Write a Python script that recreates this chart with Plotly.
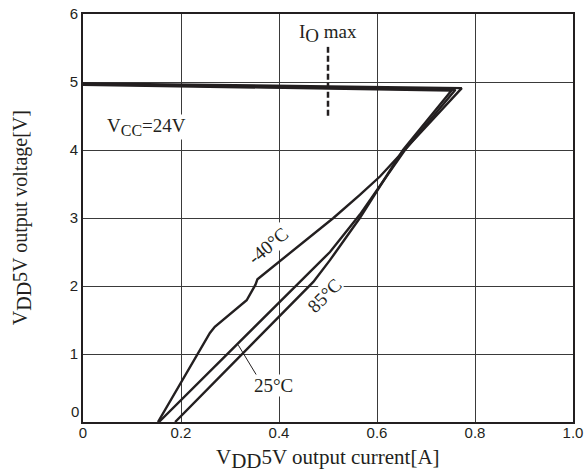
import plotly.graph_objects as go

# VDD5V output current [A] vs output voltage [V], per temperature
# each curve: along the top from 0A to the fold-back tip, then down to 0V
m40_x = [0, 0.773, 0.606, 0.565, 0.511, 0.402, 0.356, 0.352, 0.345, 0.334, 0.269, 0.259, 0.153]
m40_y = [4.98, 4.91, 3.61, 3.34, 3.00, 2.37, 2.10, 2.02, 1.93, 1.79, 1.40, 1.31, 0]

t25_x = [0, 0.760, 0.657, 0.565, 0.504, 0.155]
t25_y = [4.97, 4.885, 4.00, 3.05, 2.50, 0]

t85_x = [0, 0.752, 0.653, 0.565, 0.504, 0.470, 0.188]
t85_y = [4.96, 4.875, 4.00, 3.00, 2.38, 2.06, 0]

io_max_x = [0.5, 0.5]
io_max_y = [5.52, 4.50]

leader_x = [0.317, 0.354]
leader_y = [1.13, 0.69]

x_ticks = [0, 0.2, 0.4, 0.6, 0.8, 1.0]
x_labels = ['0', '0.2', '0.4', '0.6', '0.8', '1.0']
y_ticks = [1, 2, 3, 4, 5, 6]
y_labels = ['1', '2', '3', '4', '5', '6']

ink = '#231f20'
serif = 'Liberation Serif'
sans = 'Liberation Sans'

fig = go.Figure()
for xs, ys in [(m40_x, m40_y), (t25_x, t25_y), (t85_x, t85_y)]:
    fig.add_trace(go.Scatter(x=xs, y=ys, mode='lines',
                             line=dict(color=ink, width=2.4),
                             showlegend=False, hoverinfo='skip'))

fig.add_trace(go.Scatter(x=io_max_x, y=io_max_y, mode='lines',
                         line=dict(color=ink, width=2.5, dash='6px,3px'),
                         showlegend=False, hoverinfo='skip'))
fig.add_trace(go.Scatter(x=leader_x, y=leader_y, mode='lines',
                         line=dict(color=ink, width=1),
                         showlegend=False, hoverinfo='skip'))

def sub(s, size):
    return '<sub><span style="font-size:%dpx">%s</span></sub>' % (size, s)

notes = [
    dict(x=0.5, y=5.72, text='I' + sub('O', 19) + ' max', angle=0),
    dict(x=0.13, y=4.34, text='V' + sub('CC', 16) + '=24V', angle=0),
    dict(x=0.378, y=2.60, text='-40°C', angle=-40),
    dict(x=0.493, y=1.86, text='85°C', angle=-45),
    dict(x=0.388, y=0.53, text='25°C', angle=0),
]
for n in notes:
    fig.add_annotation(x=n['x'], y=n['y'], text=n['text'], textangle=n['angle'],
                       showarrow=False, bgcolor='white', borderpad=0,
                       font=dict(family=serif, size=19, color=ink))

# y "0" sits just above the frame in the original
fig.add_annotation(x=0, xref='paper', y=0, text='0', showarrow=False,
                   xanchor='right', yanchor='bottom', xshift=-2,
                   font=dict(family=sans, size=15, color=ink))

# axis titles
fig.add_annotation(x=0.5, y=-0.09, xref='paper', yref='paper',
                   xanchor='center', yanchor='middle',
                   text='V' + sub('DD', 21) + '5V output current[A]',
                   showarrow=False, font=dict(family=serif, size=21, color=ink))
fig.add_annotation(x=-0.124, y=0.5, xref='paper', yref='paper', textangle=-90,
                   xanchor='center', yanchor='middle',
                   text='V' + sub('DD', 20) + '5V output voltage[V]',
                   showarrow=False, font=dict(family=serif, size=20, color=ink))

fig.update_layout(
    width=585, height=475,
    margin=dict(l=83, r=12, t=14, b=53),
    paper_bgcolor='white', plot_bgcolor='white',
    xaxis=dict(range=[0, 1], tickvals=x_ticks, ticktext=x_labels,
               showgrid=True, gridcolor='#3a3a3a', gridwidth=1,
               showline=True, linecolor=ink, linewidth=2, mirror=True,
               ticks='', ticklen=0, zeroline=False, automargin=False,
               ticklabelstandoff=-4,
               tickfont=dict(family=sans, size=15, color=ink)),
    yaxis=dict(range=[0, 6], tickvals=y_ticks, ticktext=y_labels,
               showgrid=True, gridcolor='#3a3a3a', gridwidth=1,
               showline=True, linecolor=ink, linewidth=2, mirror=True,
               ticks='', ticklen=0, zeroline=False, automargin=False,
               tickfont=dict(family=sans, size=15, color=ink)),
)

# drop the browser's default body margin so the figure fills the window
fig.write_html('out.html', config={'displayModeBar': False},
               post_script="document.body.style.margin='0';")
